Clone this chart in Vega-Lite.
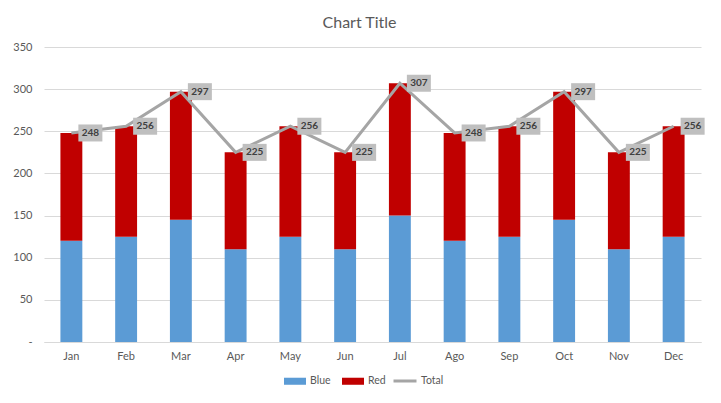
{
  "$schema": "https://vega.github.io/schema/vega-lite/v6.json",
  "width": 657,
  "height": 295,
  "autosize": "none",
  "padding": {"left": 44, "top": 47, "right": 20, "bottom": 61},
  "background": "white",
  "config": {
    "font": "Lato",
    "view": {"stroke": null},
    "axis": {"labelColor": "#595959", "labelFontSize": 11, "labelFont": "Lato", "titleFont": "Lato"},
    "legend": {"labelFont": "Lato"}
  },
  "title": {
    "text": "Chart Title",
    "fontSize": 16,
    "fontWeight": "normal",
    "color": "#595959",
    "anchor": "middle",
    "dx": -13,
    "offset": 10
  },
  "datasets": {
    "bars": [
      {"month": "Jan", "series": "Blue", "value": 120},
      {"month": "Jan", "series": "Red", "value": 128},
      {"month": "Feb", "series": "Blue", "value": 125},
      {"month": "Feb", "series": "Red", "value": 131},
      {"month": "Mar", "series": "Blue", "value": 145},
      {"month": "Mar", "series": "Red", "value": 152},
      {"month": "Apr", "series": "Blue", "value": 110},
      {"month": "Apr", "series": "Red", "value": 115},
      {"month": "May", "series": "Blue", "value": 125},
      {"month": "May", "series": "Red", "value": 131},
      {"month": "Jun", "series": "Blue", "value": 110},
      {"month": "Jun", "series": "Red", "value": 115},
      {"month": "Jul", "series": "Blue", "value": 150},
      {"month": "Jul", "series": "Red", "value": 157},
      {"month": "Ago", "series": "Blue", "value": 120},
      {"month": "Ago", "series": "Red", "value": 128},
      {"month": "Sep", "series": "Blue", "value": 125},
      {"month": "Sep", "series": "Red", "value": 131},
      {"month": "Oct", "series": "Blue", "value": 145},
      {"month": "Oct", "series": "Red", "value": 152},
      {"month": "Nov", "series": "Blue", "value": 110},
      {"month": "Nov", "series": "Red", "value": 115},
      {"month": "Dec", "series": "Blue", "value": 125},
      {"month": "Dec", "series": "Red", "value": 131}
    ],
    "totals": [
      {"month": "Jan", "series": "Total", "total": 248},
      {"month": "Feb", "series": "Total", "total": 256},
      {"month": "Mar", "series": "Total", "total": 297},
      {"month": "Apr", "series": "Total", "total": 225},
      {"month": "May", "series": "Total", "total": 256},
      {"month": "Jun", "series": "Total", "total": 225},
      {"month": "Jul", "series": "Total", "total": 307},
      {"month": "Ago", "series": "Total", "total": 248},
      {"month": "Sep", "series": "Total", "total": 256},
      {"month": "Oct", "series": "Total", "total": 297},
      {"month": "Nov", "series": "Total", "total": 225},
      {"month": "Dec", "series": "Total", "total": 256}
    ]
  },
  "encoding": {
    "x": {
      "field": "month",
      "type": "nominal",
      "sort": ["Jan", "Feb", "Mar", "Apr", "May", "Jun", "Jul", "Ago", "Sep", "Oct", "Nov", "Dec"],
      "scale": {"paddingInner": 0.6, "paddingOuter": 0.3},
      "axis": {
        "title": null,
        "labelAngle": 0,
        "ticks": false,
        "domainColor": "#D9D9D9",
        "labelPadding": 8
      }
    }
  },
  "layer": [
    {
      "data": {"name": "bars"},
      "mark": {"type": "bar"},
      "encoding": {
        "y": {
          "field": "value",
          "type": "quantitative",
          "stack": "zero",
          "scale": {"domain": [0, 350], "nice": false},
          "axis": {
            "title": null,
            "values": [0, 50, 100, 150, 200, 250, 300, 350],
            "labelExpr": "datum.value == 0 ? '-' : datum.label",
            "domain": false,
            "ticks": false,
            "gridColor": "#D9D9D9",
            "labelPadding": 12
          }
        },
        "fill": {
          "field": "series",
          "type": "nominal",
          "scale": {"domain": ["Blue", "Red"], "range": ["#5B9BD5", "#C00000"]},
          "legend": {
            "title": null,
            "orient": "none",
            "direction": "horizontal",
            "legendX": 240,
            "legendY": 323,
            "symbolType": "M-1,-0.32h2v0.64h-2Z",
            "symbolSize": 484,
            "symbolStrokeWidth": 0,
            "labelFontSize": 10.5,
            "labelColor": "#595959",
            "labelOffset": 4,
            "columnPadding": 11
          }
        },
        "order": {"field": "series", "sort": "ascending"}
      }
    },
    {
      "data": {"name": "totals"},
      "mark": {"type": "line", "strokeWidth": 3, "strokeJoin": "miter"},
      "encoding": {
        "y": {"field": "total", "type": "quantitative"},
        "stroke": {
          "field": "series",
          "type": "nominal",
          "scale": {"domain": ["Total"], "range": ["#A5A5A5"]},
          "legend": {
            "title": null,
            "orient": "none",
            "legendX": 348,
            "legendY": 321,
            "symbolType": "stroke",
            "symbolSize": 529,
            "symbolStrokeWidth": 3,
            "labelFontSize": 10.5,
            "labelColor": "#595959",
            "labelOffset": 3
          }
        }
      }
    },
    {
      "data": {"name": "totals"},
      "mark": {
        "type": "point",
        "shape": "M-1.2,-0.85h2.4v1.7h-2.4Z",
        "size": 400,
        "filled": true,
        "fill": "#BFBFBF",
        "opacity": 1,
        "strokeWidth": 0,
        "xOffset": 19
      },
      "encoding": {
        "y": {"field": "total", "type": "quantitative"}
      }
    },
    {
      "data": {"name": "totals"},
      "mark": {
        "type": "text",
        "xOffset": 19,
        "fontSize": 10,
        "fontWeight": "bold",
        "color": "#404040",
        "baseline": "middle",
        "align": "center"
      },
      "encoding": {
        "y": {"field": "total", "type": "quantitative"},
        "text": {"field": "total", "type": "quantitative"}
      }
    }
  ]
}
